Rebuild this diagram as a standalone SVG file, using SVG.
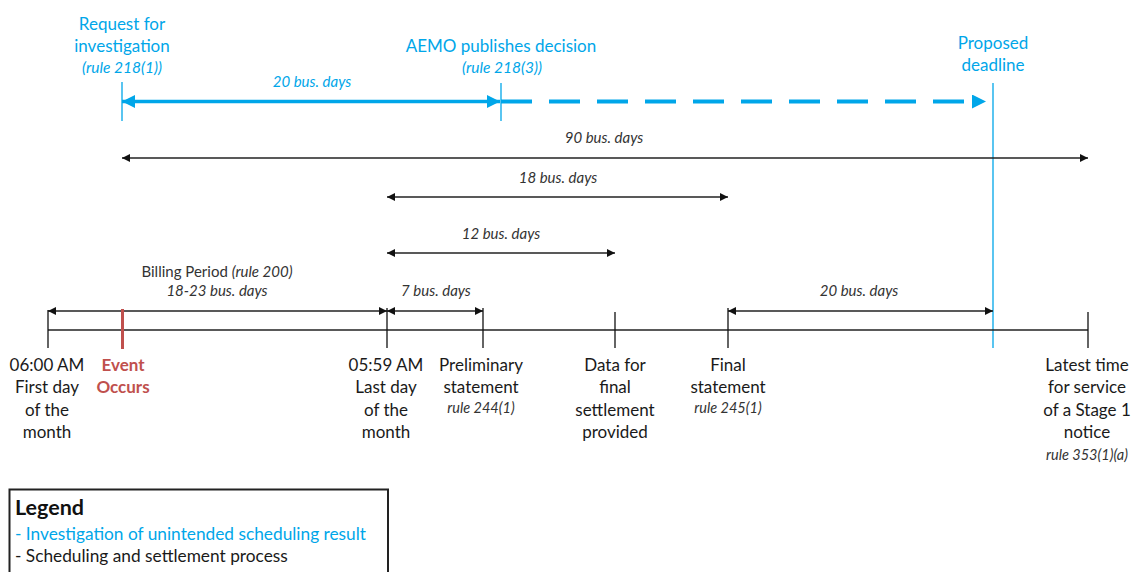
<svg xmlns="http://www.w3.org/2000/svg" width="1132" height="572" viewBox="0 0 1132 572">
<style>
  text { font-family: Lato, "Open Sans", "Liberation Sans", sans-serif; }
  .blue { fill: #00A6E9; font-size: 17px; }
  .bluei { fill: #00A6E9; font-size: 15.5px; font-style: italic; }
  .lbl { fill: #1a1a1a; font-size: 17px; }
  .dur { fill: #333; font-size: 15px; font-style: italic; }
  .rule { fill: #333; font-size: 14.5px; font-style: italic; }
  .red { fill: #C0504D; font-size: 17px; font-weight: bold; }
  .blk { stroke: #222; stroke-width: 1.3; fill: none; }
  .tick { stroke: #111; stroke-width: 1.3; }
  .bl { stroke: #00A6E9; stroke-width: 1.3; }
  .mid { text-anchor: middle; }
</style>
<defs>
  <marker id="ah" viewBox="0 0 10 10" refX="10" refY="5" markerWidth="9" markerHeight="8" markerUnits="userSpaceOnUse" orient="auto-start-reverse">
    <path d="M0,0 L10,5 L0,10 Z" fill="#111"/>
  </marker>
  <marker id="bah" viewBox="0 0 10 10" refX="10" refY="5" markerWidth="14" markerHeight="13" markerUnits="userSpaceOnUse" orient="auto-start-reverse">
    <path d="M0,0 L10,5 L0,10 Z" fill="#00A6E9"/>
  </marker>
  <marker id="bah2" viewBox="0 0 10 10" refX="0" refY="5" markerWidth="21" markerHeight="14" markerUnits="userSpaceOnUse" orient="auto">
    <path d="M0,0 L10,5 L0,10 Z" fill="#00A6E9"/>
  </marker>
</defs>

<g id="connectors">
  <line class="bl" x1="122" y1="82" x2="122" y2="121"/>
  <line class="bl" x1="501" y1="83" x2="501" y2="121"/>
  <line class="bl" x1="993" y1="83" x2="993" y2="348"/>
  <line x1="122" y1="101.5" x2="500" y2="101.5" stroke="#00A6E9" stroke-width="3.5" marker-start="url(#bah)" marker-end="url(#bah)"/>
  <line x1="501" y1="101.5" x2="972" y2="101.5" stroke="#00A6E9" stroke-width="4" stroke-dasharray="31 17" marker-end="url(#bah2)"/>
  <line class="blk" x1="122" y1="158" x2="1088" y2="158" marker-start="url(#ah)" marker-end="url(#ah)"/>
  <line class="blk" x1="387" y1="197" x2="728" y2="197" marker-start="url(#ah)" marker-end="url(#ah)"/>
  <line class="blk" x1="387" y1="253" x2="615" y2="253" marker-start="url(#ah)" marker-end="url(#ah)"/>
  <line class="blk" x1="48" y1="311" x2="387" y2="311" marker-start="url(#ah)" marker-end="url(#ah)"/>
  <line class="blk" x1="387" y1="311" x2="483" y2="311" marker-start="url(#ah)" marker-end="url(#ah)"/>
  <line class="blk" x1="728" y1="311" x2="993" y2="311" marker-start="url(#ah)" marker-end="url(#ah)"/>
  <line class="blk" x1="48" y1="330" x2="1088" y2="330"/>
  <line class="tick" x1="48" y1="310" x2="48" y2="348"/>
  <line class="tick" x1="387" y1="308" x2="387" y2="348"/>
  <line class="tick" x1="483" y1="308" x2="483" y2="348"/>
  <line class="tick" x1="615" y1="312" x2="615" y2="348"/>
  <line class="tick" x1="728" y1="308" x2="728" y2="348"/>
  <line class="tick" x1="1088" y1="312" x2="1088" y2="348"/>
  <line x1="122.5" y1="309" x2="122.5" y2="349" stroke="#C0504D" stroke-width="3"/>
</g>

<g id="duration-labels">
  <text class="dur mid" x="312" y="87" style="fill:#00A6E9">20 bus. days</text>
  <text class="dur mid" x="604" y="143">90 bus. days</text>
  <text class="dur mid" x="558" y="183">18 bus. days</text>
  <text class="dur mid" x="501" y="239">12 bus. days</text>
  <text class="mid" x="217" y="277" style="font-size:15px;fill:#333">Billing Period <tspan font-style="italic">(rule 200)</tspan></text>
  <text class="dur mid" x="217" y="296">18-23 bus. days</text>
  <text class="dur mid" x="436" y="296">7 bus. days</text>
  <text class="dur mid" x="859" y="296">20 bus. days</text>
</g>

<g id="node-request">
  <text class="blue mid" x="122" y="30">Request for</text>
  <text class="blue mid" x="122" y="52">investigation</text>
  <text class="bluei mid" x="122" y="73">(rule 218(1))</text>
</g>
<g id="node-aemo">
  <text class="blue mid" x="501" y="52">AEMO publishes decision</text>
  <text class="bluei mid" x="502" y="73">(rule 218(3))</text>
</g>
<g id="node-deadline">
  <text class="blue mid" x="993" y="49">Proposed</text>
  <text class="blue mid" x="993" y="71">deadline</text>
</g>

<g id="node-first-day">
  <text class="lbl mid" x="47" y="371">06:00 AM</text>
  <text class="lbl mid" x="47" y="393">First day</text>
  <text class="lbl mid" x="47" y="416">of the</text>
  <text class="lbl mid" x="47" y="438">month</text>
</g>
<g id="node-event">
  <text class="red mid" x="123" y="371">Event</text>
  <text class="red mid" x="123" y="393">Occurs</text>
</g>
<g id="node-last-day">
  <text class="lbl mid" x="386" y="371">05:59 AM</text>
  <text class="lbl mid" x="386" y="393">Last day</text>
  <text class="lbl mid" x="386" y="416">of the</text>
  <text class="lbl mid" x="386" y="438">month</text>
</g>
<g id="node-preliminary">
  <text class="lbl mid" x="481" y="371">Preliminary</text>
  <text class="lbl mid" x="481" y="393">statement</text>
  <text class="rule mid" x="481" y="413">rule 244(1)</text>
</g>
<g id="node-data">
  <text class="lbl mid" x="615" y="371">Data for</text>
  <text class="lbl mid" x="615" y="393">final</text>
  <text class="lbl mid" x="615" y="416">settlement</text>
  <text class="lbl mid" x="615" y="438">provided</text>
</g>
<g id="node-final">
  <text class="lbl mid" x="728" y="371">Final</text>
  <text class="lbl mid" x="728" y="393">statement</text>
  <text class="rule mid" x="728" y="413">rule 245(1)</text>
</g>
<g id="node-latest">
  <text class="lbl mid" x="1087" y="371">Latest time</text>
  <text class="lbl mid" x="1087" y="393">for service</text>
  <text class="lbl mid" x="1087" y="416">of a Stage 1</text>
  <text class="lbl mid" x="1087" y="438">notice</text>
  <text class="rule mid" x="1087" y="460">rule 353(1)(a)</text>
</g>

<g id="legend">
  <rect x="9.5" y="489.5" width="378.5" height="100" fill="#fff" stroke="#222" stroke-width="2"/>
  <text x="15" y="515" style="font-size:21.5px;font-weight:bold;fill:#111">Legend</text>
  <text x="15" y="540" style="font-size:17.3px;fill:#00A6E9">- Investigation of unintended scheduling result</text>
  <text x="15" y="562" style="font-size:17.3px;fill:#1a1a1a">- Scheduling and settlement process</text>
</g>
</svg>
